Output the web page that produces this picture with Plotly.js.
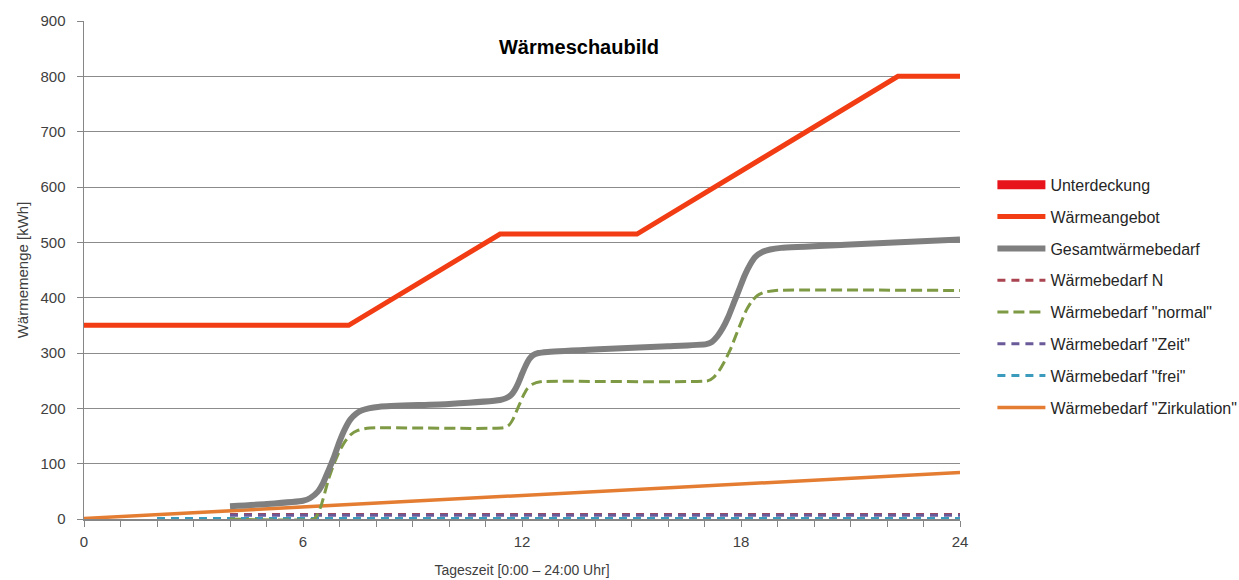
<!DOCTYPE html>
<html>
<head>
<meta charset="utf-8">
<script src="https://cdn.plot.ly/plotly-3.0.1.min.js"></script>
<style>html,body{margin:0;padding:0;background:#fff;}#chart{width:1239px;height:580px;}</style>
</head>
<body>
<div id="chart"></div>
<script>
// Tageszeit [h] and values [kWh]
const angebotX = [0, 7.25, 11.4, 15.15, 22.3, 24];
const angebotY = [350, 350, 515, 515, 800, 800];

const gesamtX = [4.0, 5.0, 6.0, 6.2, 6.4, 6.55, 6.7, 6.85, 7.0, 7.15, 7.3, 7.45, 7.6, 7.8, 8.1, 10.0, 11.4, 11.55, 11.7, 11.8, 11.9, 12.0, 12.1, 12.2, 12.3, 12.45, 12.7, 14.1, 16.0, 17.05, 17.2, 17.35, 17.5, 17.65, 17.8, 17.95, 18.1, 18.25, 18.4, 18.6, 18.8, 19.1, 21.0, 24.0];
const gesamtY = [23, 27, 33, 38, 49, 65, 88, 112, 140, 163, 180, 190, 196, 200, 203, 208, 215, 218, 224, 233, 246, 262, 277, 289, 296, 300, 302, 307, 312, 316, 320, 330, 345, 365, 390, 415, 440, 460, 474, 483, 487, 490, 496, 505];

const normalX = [4.0, 6.3, 6.4, 6.5, 6.6, 6.7, 6.85, 7.0, 7.15, 7.3, 7.5, 7.75, 8.1, 11.5, 11.65, 11.75, 11.85, 11.95, 12.05, 12.15, 12.3, 12.5, 17.1, 17.25, 17.4, 17.55, 17.7, 17.85, 18.0, 18.15, 18.3, 18.45, 18.65, 18.95, 24.0];
const normalY = [0, 0, 8, 25, 48, 72, 100, 123, 140, 152, 160, 164, 165, 165, 170, 180, 195, 210, 225, 236, 244, 248, 250, 256, 268, 285, 305, 330, 355, 378, 394, 404, 410, 413, 413];

const bedarfNX = [4, 24];
const bedarfNY = [8, 8];
const zeitX = [4, 24];
const zeitY = [7, 7];
const freiX = [2, 24];
const freiY = [1, 1];
const zirkX = [0, 24];
const zirkY = [1, 84];

const names = ['Unterdeckung', 'Wärmeangebot', 'Gesamtwärmebedarf', 'Wärmebedarf N',
  'Wärmebedarf "normal"', 'Wärmebedarf "Zeit"', 'Wärmebedarf "frei"', 'Wärmebedarf "Zirkulation"'];

const traces = [
  {name: names[0], x: [null], y: [null], mode: 'lines', line: {color: '#e8141c', width: 9}},
  {name: names[1], x: angebotX, y: angebotY, mode: 'lines', line: {color: '#f23c13', width: 5}},
  {name: names[2], x: gesamtX, y: gesamtY, mode: 'lines', line: {color: '#7f7f7f', width: 6, shape: 'spline', smoothing: 0.5}},
  {name: names[3], x: bedarfNX, y: bedarfNY, mode: 'lines', line: {color: '#a94450', width: 3, dash: '8px,6px'}},
  {name: names[4], x: normalX, y: normalY, mode: 'lines', line: {color: '#7f9a44', width: 3, dash: '11px,5px', shape: 'spline', smoothing: 0.5}},
  {name: names[5], x: zeitX, y: zeitY, mode: 'lines', line: {color: '#6a5a99', width: 3, dash: '8px,6px'}},
  {name: names[6], x: freiX, y: freiY, mode: 'lines', line: {color: '#3b9bbd', width: 3, dash: '8px,6px'}},
  {name: names[7], x: zirkX, y: zirkY, mode: 'lines', line: {color: '#e47d32', width: 3.5}}
];
traces.forEach((t, i) => { t.legendgroup = 'g' + i; t.legendrank = i + 1; });
// draw order: put the thin flat lines under the curves
const order = [0, 6, 3, 5, 7, 4, 2, 1];
const data = order.map(i => traces[i]);

const layout = {
  width: 1239, height: 580,
  margin: {l: 84, r: 279, t: 21, b: 61, autoexpand: false},
  paper_bgcolor: '#ffffff', plot_bgcolor: '#ffffff',
  font: {family: 'Liberation Sans, Arial, sans-serif', color: '#404040'},
  showlegend: true,
  title: {text: '<b>Wärmeschaubild</b>', x: 579 / 1239, xanchor: 'center', y: 1 - 47 / 580, yanchor: 'middle',
          font: {size: 20, color: '#000000', family: 'Liberation Sans, Arial, sans-serif'}},
  xaxis: {
    range: [0, 24], tickmode: 'array', tickvals: [0, 6, 12, 18, 24], ticktext: ['0', '6', '12', '18', '24'],
    ticks: 'outside', ticklen: 6, tickcolor: '#868686', showgrid: false, zeroline: false,
    showline: true, linecolor: '#868686', linewidth: 1.5,
    minor: {tickmode: 'linear', tick0: 0, dtick: 1, ticks: 'outside', ticklen: 6, tickcolor: '#868686', showgrid: false},
    tickfont: {size: 15, color: '#404040'}, ticklabelstandoff: 2,
    title: {text: 'Tageszeit [0:00 – 24:00 Uhr]', font: {size: 14, color: '#404040'}, standoff: 16}
  },
  yaxis: {
    range: [0, 900], dtick: 100, ticks: 'outside', ticklen: 6, tickcolor: '#868686',
    showgrid: true, gridcolor: '#8c8c8c', gridwidth: 1, zeroline: false,
    showline: true, linecolor: '#868686', linewidth: 1.5,
    tickfont: {size: 15, color: '#404040'}, ticklabelstandoff: 8,
    title: {text: 'Wärmemenge [kWh]', font: {size: 15, color: '#404040'}, standoff: 8}
  },
  legend: {
    x: 1.037, xanchor: 'left', y: 0.705, yanchor: 'top',
    font: {size: 16, color: '#262626'}, itemwidth: 48, tracegroupgap: 8,
    traceorder: 'grouped', bgcolor: 'rgba(0,0,0,0)', borderwidth: 0
  }
};

Plotly.newPlot('chart', data, layout, {displayModeBar: false, staticPlot: true});
</script>
</body>
</html>
